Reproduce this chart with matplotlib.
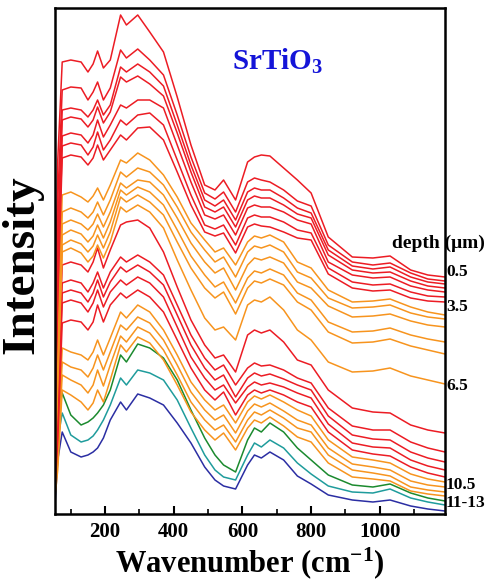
import matplotlib
matplotlib.use('Agg')
import matplotlib.pyplot as plt
from matplotlib.ticker import MultipleLocator

# Raman shift grid (cm-1), shared by every spectrum
wavenumber = [54, 62, 75, 100, 130, 150, 165, 178, 195, 215, 245, 262, 295, 330,
              370, 410, 450, 490, 520, 545, 580, 615, 635, 655, 680, 720, 760,
              800, 850, 920, 980, 1030, 1090, 1140, 1190]

# stacked spectra, top of the stack first (arb. units, offsets included)
r1_1 = [270, 440, 538, 540, 538, 528, 536, 549, 532, 540, 585, 575, 585, 568, 548, 503, 455, 415, 410, 420, 400, 438, 443, 445, 444, 432, 420, 407, 363, 343, 342, 344, 330, 325, 323]
r1_2 = [240, 400, 510, 513, 512, 500, 508, 518, 500, 512, 550, 542, 551, 540, 525, 485, 443, 407, 401, 408, 388, 418, 422, 420, 418, 410, 399, 394, 355, 338, 335, 337, 327, 321, 319]
r1_3 = [220, 370, 490, 492, 490, 483, 490, 500, 485, 495, 533, 528, 536, 528, 514, 475, 435, 400, 394, 400, 380, 408, 412, 410, 410, 402, 392, 387, 350, 334, 331, 333, 323, 318, 316]
r1_4 = [210, 350, 480, 483, 481, 473, 480, 493, 477, 488, 523, 518, 524, 516, 504, 467, 428, 393, 388, 393, 373, 400, 404, 402, 402, 395, 386, 382, 345, 330, 327, 328, 319, 314, 312]
r1_5 = [200, 330, 464, 467, 465, 457, 465, 480, 463, 475, 495, 492, 500, 500, 492, 455, 418, 385, 381, 385, 365, 392, 395, 393, 393, 388, 380, 376, 338, 325, 322, 323, 314, 310, 308]
r1_6 = [190, 310, 454, 457, 455, 445, 453, 468, 450, 460, 480, 475, 485, 487, 475, 440, 405, 375, 371, 375, 355, 382, 385, 383, 383, 378, 370, 367, 332, 318, 315, 316, 308, 304, 303]
r1_7 = [180, 300, 442, 445, 443, 435, 442, 455, 440, 450, 465, 460, 472, 473, 460, 428, 395, 368, 364, 367, 347, 373, 376, 374, 373, 368, 362, 360, 326, 312, 309, 310, 302, 299, 298]

o1_1 = [160, 270, 405, 408, 403, 398, 404, 412, 400, 415, 440, 437, 447, 440, 425, 403, 377, 360, 348, 352, 335, 358, 364, 362, 365, 358, 338, 332, 310, 298, 299, 301, 293, 288, 285]
o1_2 = [155, 255, 388, 392, 388, 382, 388, 398, 385, 400, 428, 423, 432, 428, 415, 393, 368, 350, 338, 343, 323, 348, 354, 352, 355, 348, 328, 322, 302, 292, 293, 295, 287, 283, 281]
o1_3 = [150, 245, 376, 380, 376, 370, 376, 386, 373, 388, 417, 412, 420, 418, 405, 382, 357, 338, 327, 332, 310, 335, 342, 340, 343, 337, 318, 312, 294, 283, 284, 286, 279, 275, 273]
o1_4 = [145, 235, 365, 370, 366, 358, 364, 375, 362, 378, 410, 405, 413, 408, 395, 370, 344, 325, 313, 318, 297, 322, 329, 327, 331, 325, 307, 300, 278, 268, 269, 272, 265, 261, 258]
o1_5 = [140, 225, 355, 360, 356, 348, 354, 365, 352, 368, 403, 398, 405, 398, 385, 358, 332, 312, 302, 308, 286, 312, 319, 317, 321, 315, 298, 290, 268, 257, 258, 261, 254, 250, 246]
o1_6 = [135, 215, 348, 352, 347, 338, 344, 355, 342, 358, 393, 388, 395, 388, 372, 340, 310, 282, 270, 273, 260, 295, 300, 298, 303, 290, 270, 260, 238, 228, 229, 232, 224, 220, 216]

r2_1 = [130, 200, 335, 338, 335, 328, 338, 352, 332, 350, 375, 378, 380, 372, 348, 313, 280, 255, 242, 245, 228, 265, 270, 267, 270, 258, 240, 235, 210, 192, 188, 187, 175, 170, 167]
r2_2 = [125, 190, 317, 320, 317, 308, 317, 328, 312, 328, 343, 338, 345, 338, 325, 295, 265, 242, 230, 235, 215, 232, 237, 234, 235, 230, 222, 217, 192, 174, 170, 170, 158, 152, 148]
r2_3 = [122, 180, 307, 310, 307, 298, 307, 320, 303, 318, 333, 328, 335, 328, 315, 285, 255, 232, 220, 225, 203, 222, 227, 224, 226, 221, 215, 210, 184, 165, 161, 160, 148, 142, 138]
r2_4 = [118, 170, 297, 300, 297, 288, 297, 310, 293, 308, 320, 315, 323, 317, 303, 273, 243, 222, 210, 215, 197, 213, 218, 215, 217, 213, 207, 202, 176, 157, 153, 152, 140, 134, 130]
r2_5 = [112, 160, 277, 280, 278, 270, 278, 295, 278, 295, 307, 302, 310, 303, 288, 260, 232, 210, 200, 208, 185, 205, 210, 207, 210, 205, 198, 193, 168, 150, 146, 144, 133, 127, 123]

o2_1 = [110, 160, 252, 248, 245, 240, 248, 260, 245, 262, 288, 282, 295, 288, 270, 245, 218, 200, 190, 195, 177, 198, 204, 201, 205, 198, 190, 184, 160, 143, 140, 137, 126, 121, 118]
o2_2 = [107, 150, 238, 233, 230, 223, 232, 245, 230, 248, 275, 270, 283, 277, 260, 235, 208, 190, 180, 185, 167, 189, 196, 193, 197, 189, 180, 175, 152, 136, 133, 130, 119, 115, 113]
o2_3 = [105, 140, 225, 220, 215, 207, 215, 230, 214, 235, 264, 258, 273, 267, 250, 225, 198, 180, 170, 175, 158, 180, 188, 185, 190, 182, 172, 168, 145, 130, 127, 124, 113, 110, 108]
o2_4 = [103, 130, 210, 205, 198, 190, 197, 210, 198, 220, 255, 248, 263, 257, 240, 215, 188, 170, 160, 167, 150, 172, 180, 177, 183, 174, 163, 158, 137, 123, 121, 119, 109, 106, 104]

green = [103, 180, 207, 185, 175, 178, 182, 187, 195, 210, 245, 238, 256, 252, 242, 220, 190, 162, 145, 135, 128, 160, 172, 168, 177, 168, 152, 140, 125, 115, 113, 116, 107, 102, 99]
teal  = [100, 160, 187, 165, 158, 160, 164, 170, 180, 195, 222, 215, 230, 227, 220, 200, 172, 145, 130, 123, 120, 145, 157, 153, 160, 152, 137, 126, 114, 108, 107, 111, 102, 98, 95]
blue  = [95, 140, 168, 148, 143, 145, 148, 152, 162, 180, 198, 190, 206, 202, 195, 177, 157, 133, 120, 114, 111, 135, 145, 142, 148, 140, 124, 116, 105, 100, 98, 100, 94, 91, 89]

RED, ORANGE = '#ec1c24', '#f7941e'
spectra = [
    (r1_1, RED), (r1_2, RED), (r1_3, RED), (r1_4, RED), (r1_5, RED), (r1_6, RED), (r1_7, RED),
    (o1_1, ORANGE), (o1_2, ORANGE), (o1_3, ORANGE), (o1_4, ORANGE), (o1_5, ORANGE), (o1_6, ORANGE),
    (r2_1, RED), (r2_2, RED), (r2_3, RED), (r2_4, RED), (r2_5, RED),
    (o2_1, ORANGE), (o2_2, ORANGE), (o2_3, ORANGE), (o2_4, ORANGE),
    (green, '#1b8a2e'), (teal, '#1f9c9c'), (blue, '#2b2ea3'),
]

depth_labels = ['0.5', '3.5', '6.5', '10.5', '11-13']
depth_label_y = [272, 307, 386, 485, 503]   # pixel rows of the labels

plt.rcParams.update({
    'font.family': ['Liberation Serif', 'DejaVu Serif'],
    'font.weight': 'bold',
    'mathtext.fontset': 'custom',
    'mathtext.rm': 'Liberation Serif:bold',
    'mathtext.bf': 'Liberation Serif:bold',
    'mathtext.it': 'Liberation Serif:bold',
    'mathtext.default': 'bf',
})

W, H = 489, 580
fig = plt.figure(figsize=(W / 100, H / 100), dpi=100)
ax = fig.add_axes([55 / W, 66 / H, 390 / W, 506 / H])

for ys, c in reversed(spectra):
    ax.plot(wavenumber, ys, color=c, lw=1.1, solid_joinstyle='round')

ax.set_xlim(54, 1190)
ax.set_ylim(86, 592)
ax.set_yticks([])
ax.xaxis.set_major_locator(MultipleLocator(200))
ax.set_xticks([100, 300, 500, 700, 900, 1100], minor=True)
ax.tick_params(axis='x', which='major', direction='in', length=6, width=1.5,
               labelsize=15, pad=6)
ax.tick_params(axis='x', which='minor', direction='in', length=3.5, width=1.2)
for lab in ax.get_xticklabels():
    lab.set_fontweight('bold')
for s in ax.spines.values():
    s.set_linewidth(1.8)

ax.set_xlabel('Wavenumber (cm$^{-1}$)', fontsize=22, fontweight='bold', labelpad=2)
fig.text(22 / W, 1 - 265 / H, 'Intensity', rotation=90, fontsize=34,
         fontweight='bold', ha='center', va='center')

ax.text(0.455, 0.895, 'SrTiO$_3$', transform=ax.transAxes, color='#1414d8',
        fontsize=21, fontweight='bold', ha='left', va='center')

fig.text(392 / W, 1 - 243 / H, 'depth (\u03bcm)', fontsize=14, fontweight='bold',
         ha='left', va='center')
for lab, yp in zip(depth_labels, depth_label_y):
    fig.text(446 / W, 1 - yp / H, lab, fontsize=12.5, fontweight='bold',
             ha='left', va='center')

fig.savefig('out.png', dpi=100)
plt.close(fig)
